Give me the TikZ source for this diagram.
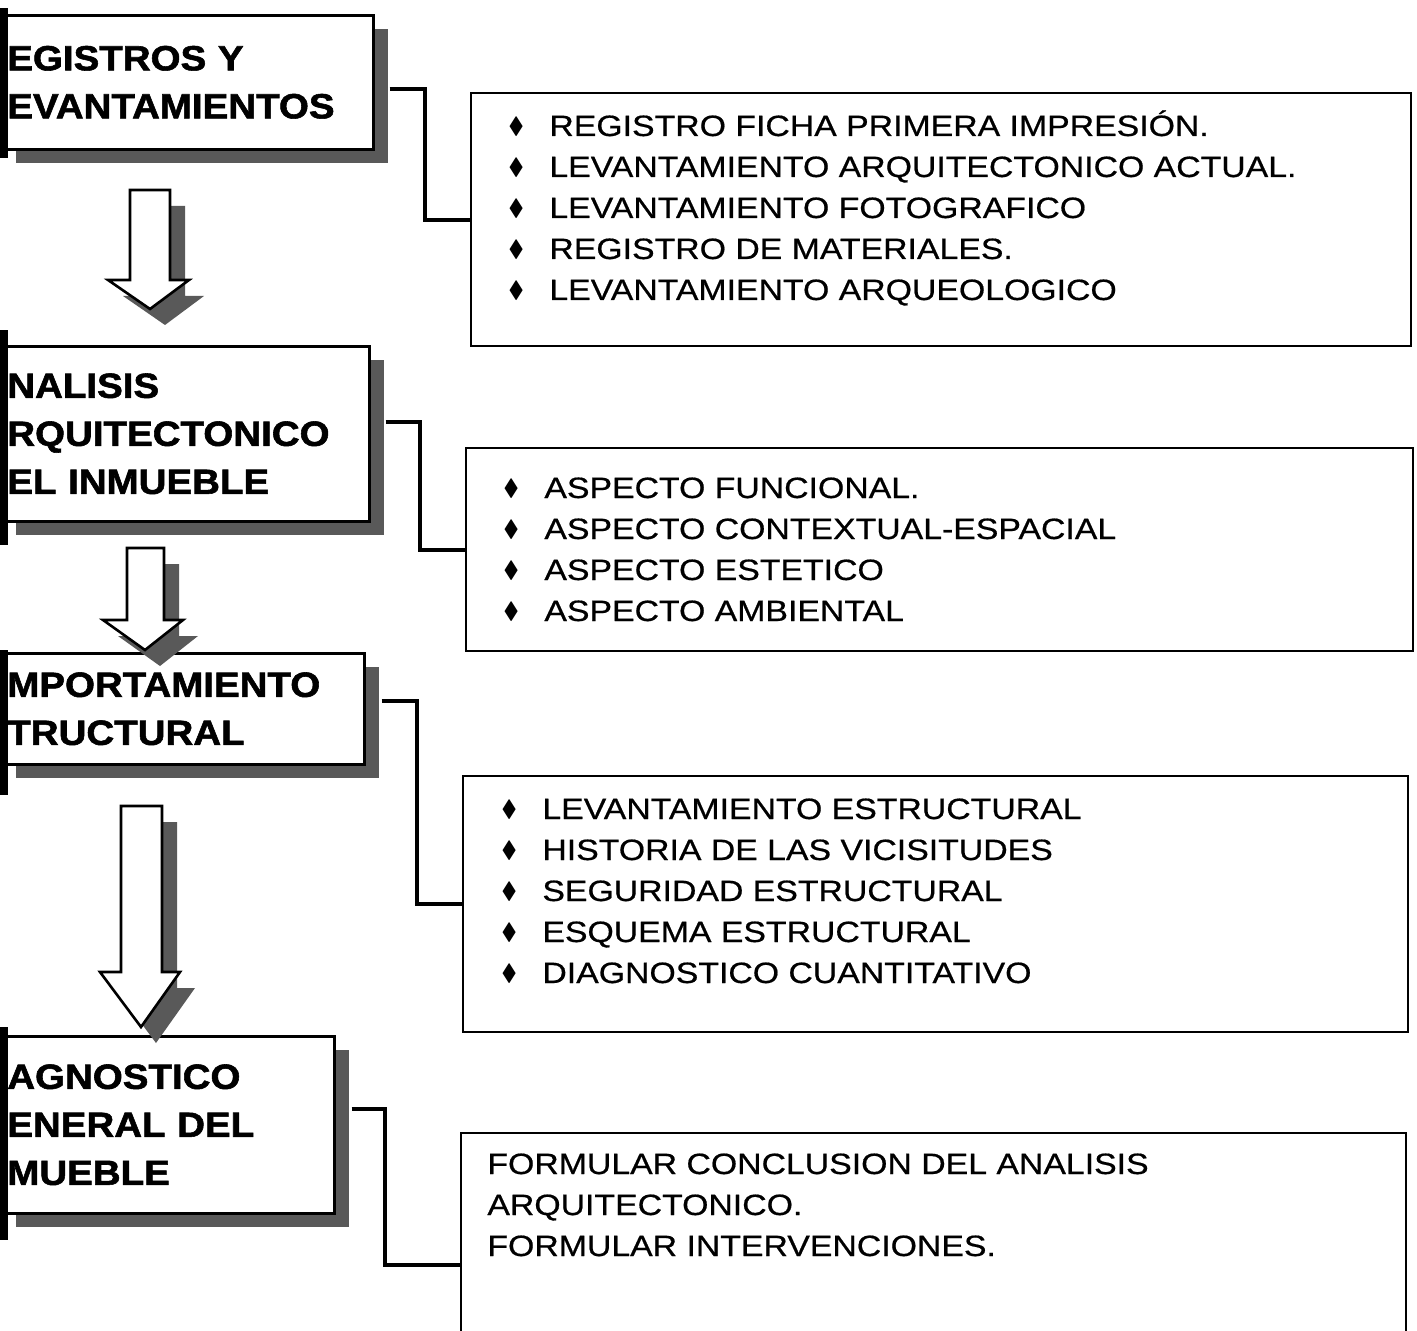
\documentclass[tikz,border=0pt]{standalone}
\usepackage{amssymb}
\usepackage{fontspec}
\setmainfont{Liberation Sans}
\newfontfamily\headfont[FakeStretch=1.1,BoldFeatures={FakeBold=1.6}]{Liberation Sans}
\newfontfamily\listfont[FakeStretch=1.15,FakeBold=0.6]{Liberation Sans}
\usetikzlibrary{positioning, shadows, calc}
\newcommand{\rombo}{\makebox[22pt][l]{\hspace{1.5pt}\raisebox{1.2pt}{\scalebox{0.8}{$\blacklozenge$}}}}

\tikzset{
  etapa/.style={draw, line width=1.3pt, fill=white, anchor=north west, align=left, inner xsep=3pt,
    font=\headfont\bfseries\fontsize{17.5}{24}\selectfont,
    drop shadow={shadow xshift=7.5pt, shadow yshift=-7pt, fill=black!65, opacity=1}},
  detalle/.style={draw, line width=1.2pt, anchor=north west},
  lista/.style={anchor=base west, align=left, inner sep=0pt,
    font=\listfont\fontsize{14.7}{20.5}\selectfont},
  enlace/.style={line width=2pt},
  flecha/.style={draw, line width=1.3pt, fill=white, line join=miter,
    drop shadow={shadow xshift=7.5pt, shadow yshift=-8pt, fill=black!65, opacity=1}},
  barra/.style={fill=black}
}

\begin{document}
\begin{tikzpicture}[x=0.5pt, y=-0.5pt]
\useasboundingbox (0,0) rectangle (1417,1331);

% etapas (izquierda)
\node[etapa, minimum width=186pt, minimum height=67pt, text width=180pt] (reg) at (0,14) {EGISTROS Y\\EVANTAMIENTOS};
\node[etapa, minimum width=184pt, minimum height=87.5pt, text width=178pt] (ana) at (0,345) {NALISIS\\RQUITECTONICO\\EL INMUEBLE};
\node[etapa, minimum width=181.5pt, minimum height=55.5pt, text width=175.5pt] (com) at (0,652) {MPORTAMIENTO\\TRUCTURAL};
\node[etapa, minimum width=166.5pt, minimum height=88.5pt, text width=160.5pt] (dia) at (0,1035) {AGNOSTICO\\ENERAL DEL\\MUEBLE};

% bordes gruesos cortados
\fill[barra] (0,8) rectangle (8,158);
\fill[barra] (0,330) rectangle (8,545);
\fill[barra] (0,650) rectangle (8,795);
\fill[barra] (0,1027) rectangle (8,1240);

% flechas de bloque
\path[flecha] (130,190) -- (170,190) -- (170,280) -- (189,280) -- (150,309) -- (108,280) -- (130,280) -- cycle;
\path[flecha] (127,548) -- (164,548) -- (164,620) -- (183,620) -- (145,650) -- (103,620) -- (127,620) -- cycle;
\path[flecha] (121,806) -- (162,806) -- (162,972) -- (180,972) -- (141,1027) -- (100,972) -- (121,972) -- cycle;

% cuadros de detalle (derecha)
\node[detalle, minimum width=470pt, minimum height=126.5pt] (regbox) at (470,92) {};
\node[detalle, minimum width=473.5pt, minimum height=101.5pt] (anabox) at (465,447) {};
\node[detalle, minimum width=472.5pt, minimum height=128pt] (combox) at (462,775) {};
\node[detalle, minimum width=472.5pt, minimum height=131.5pt] (diabox) at (460,1132) {};

% listas (ancladas en la ultima linea)
\node[lista] (reglist) at (505,300) {\rombo REGISTRO FICHA PRIMERA IMPRESIÓN.\\\rombo LEVANTAMIENTO ARQUITECTONICO ACTUAL.\\\rombo LEVANTAMIENTO FOTOGRAFICO\\\rombo REGISTRO DE MATERIALES.\\\rombo LEVANTAMIENTO ARQUEOLOGICO};
\node[lista] (analist) at (500,621) {\rombo ASPECTO FUNCIONAL.\\\rombo ASPECTO CONTEXTUAL-ESPACIAL\\\rombo ASPECTO ESTETICO\\\rombo ASPECTO AMBIENTAL};
\node[lista] (comlist) at (498,983) {\rombo LEVANTAMIENTO ESTRUCTURAL\\\rombo HISTORIA DE LAS VICISITUDES\\\rombo SEGURIDAD ESTRUCTURAL\\\rombo ESQUEMA ESTRUCTURAL\\\rombo DIAGNOSTICO CUANTITATIVO};
\node[lista] (dialist) at (487,1256) {FORMULAR CONCLUSION DEL ANALISIS\\ARQUITECTONICO.\\FORMULAR INTERVENCIONES.};

% conectores
\draw[enlace] ([xshift=7.5pt,yshift=-3.5pt]reg.east) -- ++(35,0) |- (regbox.west);
\draw[enlace] ([xshift=7.5pt,yshift=6pt]ana.east) -- ++(34,0) |- (anabox.west);
\draw[enlace] ([xshift=8pt,yshift=3.75pt]com.east) -- ++(35,0) |- (combox.west);
\draw[enlace] ([xshift=8pt,yshift=7.75pt]dia.east) -- ++(33,0) |- (diabox.west);
\end{tikzpicture}
\end{document}
